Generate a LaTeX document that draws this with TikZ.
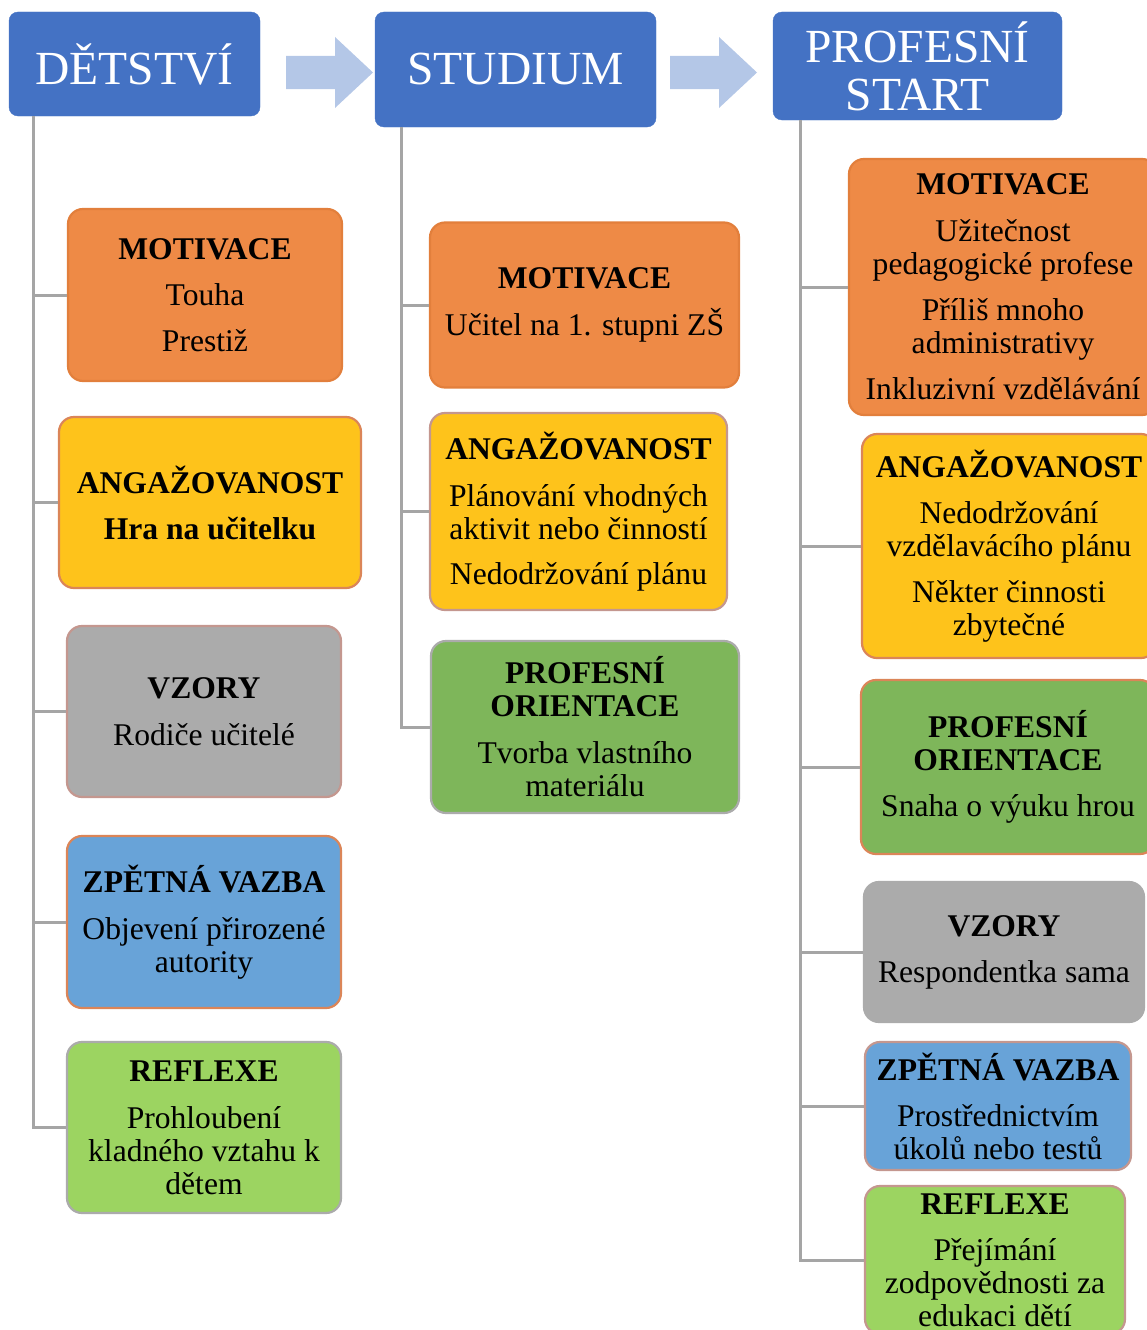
\documentclass[tikz,border=0pt]{standalone}
\usepackage{fontspec}
\setmainfont{Liberation Serif}
\usepackage{tikz}
\usetikzlibrary{shapes}
\usetikzlibrary{arrows}

\definecolor{stageblue}{HTML}{4472C4}
\definecolor{flowblue}{HTML}{B4C7E7}
\definecolor{branchgray}{HTML}{A5A5A5}
\definecolor{motivfill}{HTML}{EE8A46}
\definecolor{motivline}{HTML}{E27F3C}
\definecolor{angazfill}{HTML}{FEC31B}
\definecolor{vzorfill}{HTML}{ABABAB}
\definecolor{vazbafill}{HTML}{68A3D8}
\definecolor{reflexfill}{HTML}{9CD461}
\definecolor{orientfill}{HTML}{7EB65A}
\definecolor{rimorange}{HTML}{DB8558}
\definecolor{rimrose}{HTML}{C4978F}
\definecolor{rimgray}{HTML}{ABABAB}

\newcommand{\flowarrow}[1]{\fill[flowblue] (#1) ++(0,-16.5) -- ++(49,0) -- ++(0,-19) -- ++(38,35.5) -- ++(-38,35.5) -- ++(0,-19) -- ++(-49,0) -- cycle;}

\begin{document}
\begin{tikzpicture}[x=1pt,y=-1pt,
	stage/.style={rectangle,rounded corners=9pt,fill=stageblue,draw=stageblue,text=white,inner sep=0pt,align=center,font=\fontsize{47.5}{48}\selectfont},
	box/.style={rectangle,rounded corners=15pt,line width=2.2pt,inner sep=0pt,align=center,font=\fontsize{31.6}{33}\selectfont},
	boxsize/.style 2 args={minimum width=#1pt,minimum height=#2pt},
	motiv/.style={box,fill=motivfill,draw=motivline},
	angaz/.style={box,fill=angazfill,draw=rimorange},
	vzor/.style={box,fill=vzorfill},
	vazba/.style={box,fill=vazbafill},
	reflex/.style={box,fill=reflexfill},
	orient/.style={box,fill=orientfill},
	branch/.style={draw=branchgray,line width=3pt}
	]
	\useasboundingbox (0,0) rectangle (1147,1330);

	\node[stage,boxsize={251}{104}] (hd1) at (134.5,64) {DĚTSTVÍ};
	\node[stage,boxsize={281}{115}] (hd2) at (515.5,69.5) {STUDIUM};
	\node[stage,boxsize={289}{108}] (hd3) at (917.5,66) {PROFESNÍ\\START};

	\coordinate (f1) at (286,72.5);
	\coordinate (f2) at (670,72.5);
	\flowarrow{f1}
	\flowarrow{f2}

	\node[motiv,boxsize={274}{172}] (m1) at (205,295) {\textbf{MOTIVACE}\\[13pt]Touha\\[13pt]Prestiž};
	\node[angaz,boxsize={302}{171}] (a1) at (210,502.5) {\textbf{ANGAŽOVANOST}\\[13pt]\textbf{Hra na učitelku}};
	\node[vzor,draw=rimrose,boxsize={274}{171}] (v1) at (204,711.5) {\textbf{VZORY}\\[14pt]Rodiče učitelé};
	\node[vazba,draw=rimorange,boxsize={274}{172}] (z1) at (204,922) {\textbf{ZPĚTNÁ VAZBA}\\[14pt]Objevení přirozené\\autority};
	\node[reflex,draw=rimgray,boxsize={274}{171}] (r1) at (204,1127.5) {\textbf{REFLEXE}\\[14pt]Prohloubení\\kladného vztahu k\\dětem};

	\node[motiv,boxsize={309}{165}] (m2) at (584.5,305) {\textbf{MOTIVACE}\\[14pt]Učitel na 1. stupni ZŠ};
	\node[angaz,draw=rimrose,boxsize={297}{197}] (a2) at (578.5,511.5) {\textbf{ANGAŽOVANOST}\\[14pt]Plánování vhodných\\aktivit nebo činností\\[12pt]Nedodržování plánu};
	\node[orient,draw=rimgray,boxsize={308}{172}] (p2) at (585,727) {\textbf{PROFESNÍ}\\\textbf{ORIENTACE}\\[14pt]Tvorba vlastního\\materiálu};

	\node[motiv,boxsize={308}{256}] (m3) at (1003,287) {\textbf{MOTIVACE}\\[14pt]Užitečnost\\pedagogické profese\\[13pt]Příliš mnoho\\administrativy\\[13pt]Inkluzivní vzdělávání};
	\node[angaz,boxsize={294}{224}] (a3) at (1009,546) {\textbf{ANGAŽOVANOST}\\[13pt]Nedodržování\\vzdělavácího plánu\\[13pt]Někter činnosti\\zbytečné};
	\node[orient,draw=rimorange,boxsize={294}{174}] (p3) at (1008,767) {\textbf{PROFESNÍ}\\\textbf{ORIENTACE}\\[13pt]Snaha o výuku hrou};
	\node[vzor,draw=rimgray,boxsize={280}{140}] (v3) at (1004,952) {\textbf{VZORY}\\[13pt]Respondentka sama};
	\node[vazba,draw=rimrose,boxsize={266}{128}] (z3) at (998,1106) {\textbf{ZPĚTNÁ VAZBA}\\[13pt]Prostřednictvím\\úkolů nebo testů};
	\node[reflex,draw=rimrose,boxsize={260}{148}] (r3) at (995,1260) {\textbf{REFLEXE}\\[13pt]Přejímání\\zodpovědnosti za\\edukaci dětí};

	\coordinate (t1) at ([xshift=25pt]hd1.south west);
	\coordinate (t2) at ([xshift=27pt]hd2.south west);
	\coordinate (t3) at ([xshift=28pt]hd3.south west);
	\foreach \c in {m1,a1,v1,z1,r1} \draw[branch] (t1) |- (\c.west);
	\foreach \c in {m2,a2,p2} \draw[branch] (t2) |- (\c.west);
	\foreach \c in {m3,a3,p3,v3,z3,r3} \draw[branch] (t3) |- (\c.west);
\end{tikzpicture}
\end{document}
